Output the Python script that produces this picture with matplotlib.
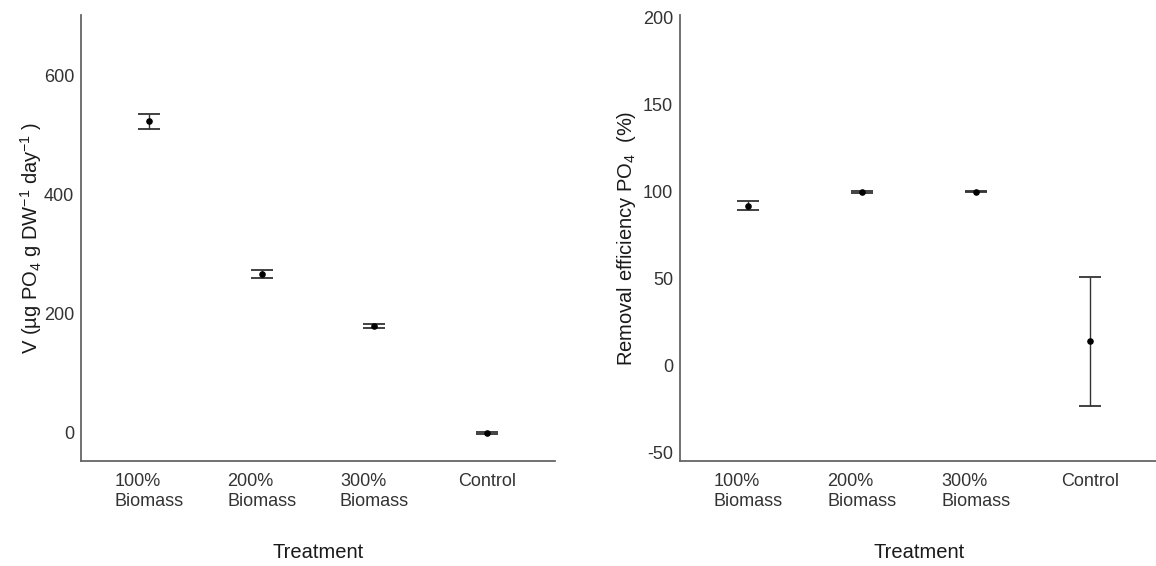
import matplotlib
matplotlib.use("Agg")
import matplotlib.pyplot as plt

plt.rcParams["font.family"] = ["Liberation Sans", "DejaVu Sans"]
plt.rcParams["mathtext.fontset"] = "custom"
plt.rcParams["mathtext.rm"] = "Liberation Sans"
plt.rcParams["mathtext.it"] = "Liberation Sans:italic"
plt.rcParams["mathtext.default"] = "regular"

treatments = ["100%\nBiomass", "200%\nBiomass", "300%\nBiomass", "Control"]

# Uptake rate V (mean with lower / upper error limits)
uptake_mean = [524, 267, 179, 0]
uptake_low = [511, 261, 176, -1.5]
uptake_high = [536, 273, 183, 1.5]

# Removal efficiency of PO4 (%)
removal_mean = [91.7, 99.6, 100.0, 14.1]
removal_low = [89.2, 99.1, 99.7, -22.8]
removal_high = [94.4, 100.1, 100.3, 50.8]

W, H = 1156, 566
fig = plt.figure(figsize=(W / 100, H / 100), dpi=100)

spine_col = "#666666"
bar_col = "#333333"
tick_col = "#333333"


def panel(rect_px, means, lows, highs, ylim, yticks, ylabel, ylabelpad):
    x0, y0, x1, y1 = rect_px
    ax = fig.add_axes([x0 / W, 1 - y1 / H, (x1 - x0) / W, (y1 - y0) / H])
    xs = list(range(1, len(means) + 1))
    yerr = [[m - l for m, l in zip(means, lows)], [h - m for m, h in zip(means, highs)]]
    ax.errorbar(xs, means, yerr=yerr, fmt="none", ecolor=bar_col, elinewidth=1.0,
                capsize=8.2, capthick=1.3, zorder=2)
    ax.scatter(xs, means, s=14, color="black", zorder=3)
    ax.set_xlim(0.4, len(means) + 0.6)
    ax.set_ylim(*ylim)
    ax.set_yticks(yticks)
    ax.set_yticklabels([str(t) for t in yticks])
    ax.set_xticks(xs)
    ax.set_xticklabels(treatments, multialignment="left")
    for s in ("top", "right"):
        ax.spines[s].set_visible(False)
    for s in ("left", "bottom"):
        ax.spines[s].set_color(spine_col)
        ax.spines[s].set_linewidth(1.3)
    ax.tick_params(axis="both", length=0, labelsize=13, colors=tick_col, labelcolor=tick_col)
    ax.tick_params(axis="x", pad=9)
    ax.tick_params(axis="y", pad=5)
    ax.set_xlabel("Treatment", fontsize=14.5, labelpad=24, color="#1a1a1a")
    ax.set_ylabel(ylabel, fontsize=14.5, labelpad=ylabelpad, color="#1a1a1a")
    ax.patch.set_visible(False)
    return ax


panel((81, 15, 555, 461), uptake_mean, uptake_low, uptake_high,
      (-47.6, 702.6), [0, 200, 400, 600],
      r"V (µg PO$_4$ g DW$^{-1}$ day$^{-1}$ )", 0)

panel((680, 15, 1158, 461), removal_mean, removal_low, removal_high,
      (-54.6, 201.3), [-50, 0, 50, 100, 150, 200],
      r"Removal efficiency PO$_4$  (%)", 3.5)

fig.savefig("out.png", dpi=100, facecolor="white")
